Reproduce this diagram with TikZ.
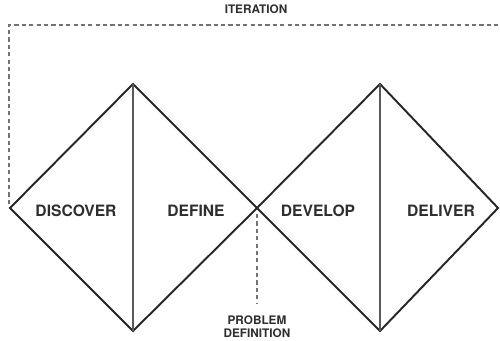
\documentclass[tikz,border=0pt]{standalone}
\usepackage{fontspec}
\setmainfont{TeX Gyre Heros}
\usetikzlibrary{positioning}
\begin{document}
\begin{tikzpicture}[x=0.02cm,y=-0.02cm,
  edge/.style={draw=black!85,line width=1.1pt,line join=miter},
  split/.style={draw=black!65,line width=0.6pt},
  loop/.style={draw=black!55,line width=0.6pt,dash pattern=on 2.4pt off 1.8pt},
  phase/.style={font=\bfseries\fontsize{8.9}{10}\selectfont,text=black!82},
  note/.style={font=\bfseries\fontsize{6.7}{7.7}\selectfont,text=black!82,align=center,inner sep=1pt}]
\useasboundingbox (0,0) rectangle (500,341);
% corners of the two diamonds
\coordinate (l) at (10,208);
\coordinate (lt) at (133,84);
\coordinate (lb) at (133,331);
\coordinate (m) at (257,208);
\coordinate (rt) at (380,84);
\coordinate (rb) at (380,331);
\coordinate (r) at (498,208);
\coordinate (iterR) at (500,25);
\coordinate (pd) at (257,303);
% diamonds
\draw[edge] (l) -- (lt) -- (m) -- (lb) -- cycle;
\draw[edge] (m) -- (rt) -- (r) -- (rb) -- cycle;
\draw[split] (lt) -- (lb);
\draw[split] (rt) -- (rb);
% phases
\node[phase] (discover) at (76,211) {DISCOVER};
\node[phase] (define) at (196,211) {DEFINE};
\node[phase] (develop) at (318,211) {DEVELOP};
\node[phase] (deliver) at (441,211) {DELIVER};
% iteration loop
\draw[loop] ([shift={(-1,-4)}]l) |- (iterR);
\node[note] (iteration) at (256,9) {ITERATION};
% problem definition
\draw[loop] ([shift={(0,6)}]m) -- (pd);
\node[note,below=6pt of pd] (problem) {PROBLEM\\DEFINITION};
\end{tikzpicture}
\end{document}
